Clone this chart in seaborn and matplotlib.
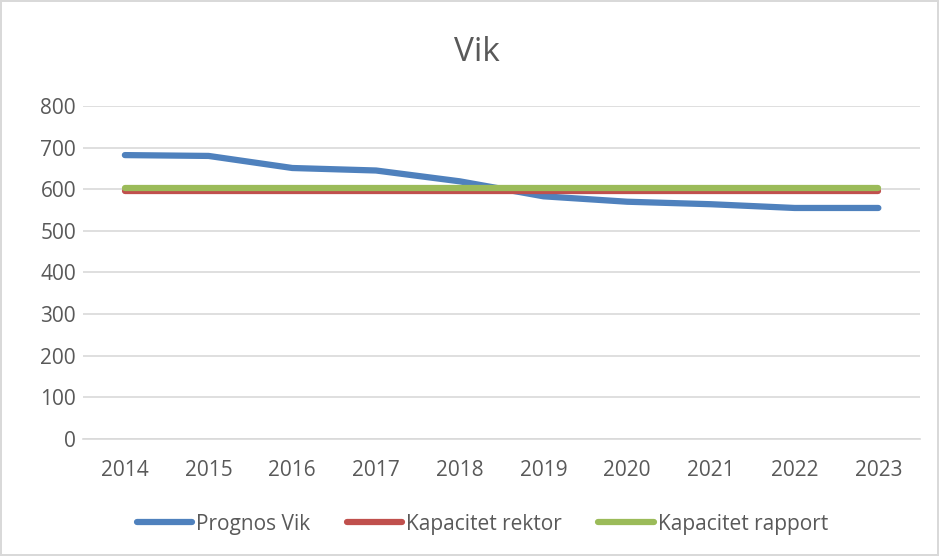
import matplotlib
matplotlib.use("Agg")
import matplotlib.pyplot as plt
import pandas as pd
import seaborn as sns

years = [2014, 2015, 2016, 2017, 2018, 2019, 2020, 2021, 2022, 2023]
prognos_vik = [682, 680, 651, 645, 619, 583, 570, 564, 555, 555]
kapacitet_rektor = [595] * len(years)
kapacitet_rapport = [604] * len(years)

series_names = ["Prognos Vik", "Kapacitet rektor", "Kapacitet rapport"]
series_colors = ["#4f81bd", "#c0504d", "#9bbb59"]
y_ticks = [0, 100, 200, 300, 400, 500, 600, 700, 800]

df = pd.concat(
    [
        pd.DataFrame({"year": years, "value": vals, "series": name})
        for name, vals in zip(series_names, [prognos_vik, kapacitet_rektor, kapacitet_rapport])
    ],
    ignore_index=True,
)

sns.set_style("white")
plt.rcParams["font.family"] = ["Open Sans", "DejaVu Sans"]
text_color = "#595959"
grid_color = "#d9d9d9"

fig = plt.figure(figsize=(9.39, 5.56), dpi=100, edgecolor=grid_color, linewidth=1.5)
ax = fig.add_axes([0.0884, 0.2104, 0.8916, 0.599])

sns.lineplot(
    data=df, x="year", y="value", hue="series", hue_order=series_names,
    palette=series_colors, linewidth=4.5, ax=ax, legend=True,
    solid_capstyle="round",
)

ax.set_xlim(2013.5, 2023.5)
ax.set_ylim(0, 800)
ax.set_yticks(y_ticks)
ax.set_xticks(years)
ax.set_xticklabels([str(y) for y in years])
ax.yaxis.grid(True, color=grid_color, linewidth=1.2)
ax.set_axisbelow(True)
for side in ["top", "right", "left"]:
    ax.spines[side].set_visible(False)
ax.spines["bottom"].set_color(grid_color)
ax.spines["bottom"].set_linewidth(1.2)
ax.tick_params(axis="both", length=0, labelsize=15, colors=text_color)
ax.tick_params(axis="x", pad=15)
ax.tick_params(axis="y", pad=5)
ax.set_xlabel("")
ax.set_ylabel("")

fig.text(0.508, 0.905, "Vik", ha="center", va="center", fontsize=24, color=text_color)

handles, labels = ax.get_legend_handles_labels()
ax.legend(
    handles, labels, loc="center", bbox_to_anchor=(0.477, -0.256), ncol=3,
    frameon=False, fontsize=15, labelcolor=text_color, handlelength=2.65,
    handletextpad=0.2, columnspacing=1.75,
)

fig.savefig("out.png", dpi=100, edgecolor=fig.get_edgecolor())
